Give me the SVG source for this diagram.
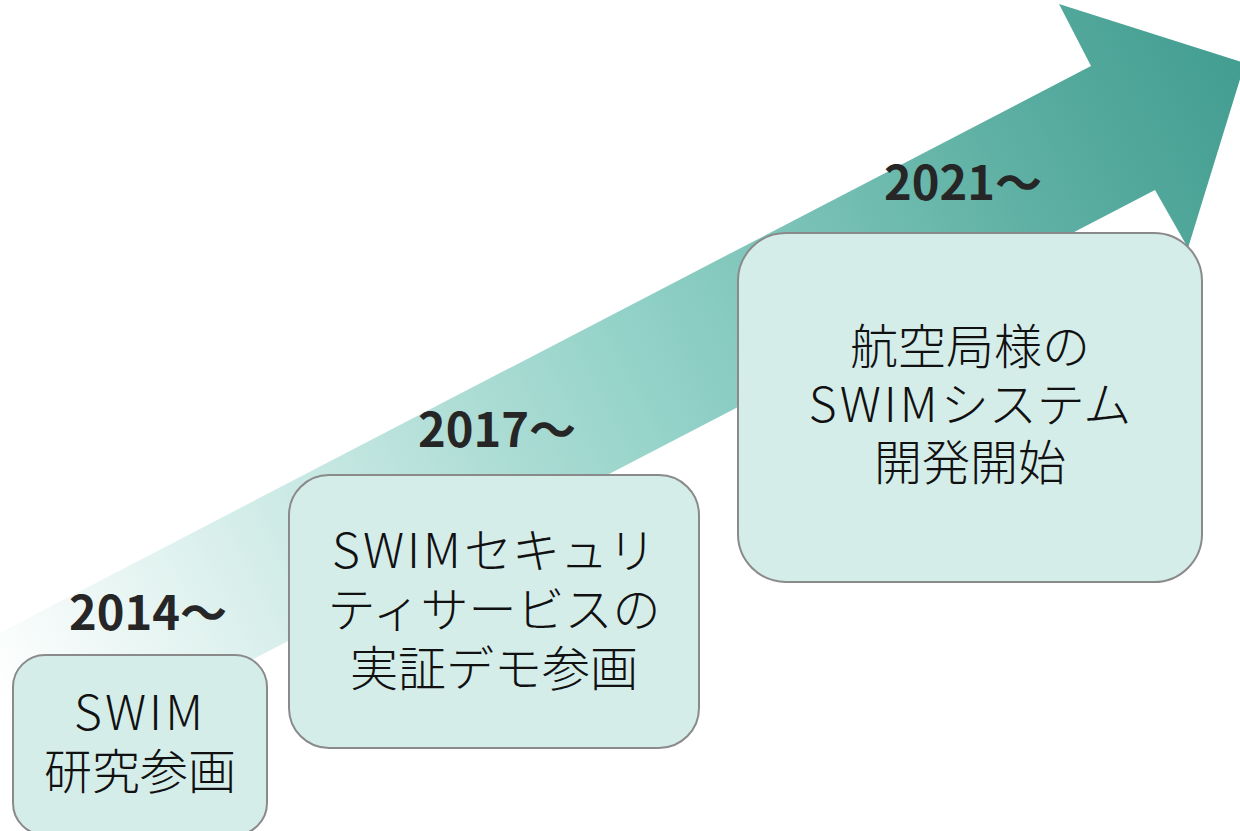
<svg xmlns="http://www.w3.org/2000/svg" width="1240" height="831" viewBox="0 0 1240 831">
<defs>
<linearGradient id="arrowGrad" gradientUnits="userSpaceOnUse" x1="0" y1="710" x2="1245" y2="63">
<stop offset="0" stop-color="#ffffff"/>
<stop offset="0.16" stop-color="#e0f2ef"/>
<stop offset="0.52" stop-color="#93d2c8"/>
<stop offset="0.89" stop-color="#52a89b"/>
<stop offset="1" stop-color="#439d91"/>
</linearGradient>
<style>
.box{fill:#d5ede9;stroke:#8a8a8a;stroke-width:2}
.body{font-family:"Noto Sans CJK JP","Noto Sans",sans-serif;font-weight:300;font-size:48px;fill:#111;text-anchor:middle}
.lat{letter-spacing:3px}
.year{font-family:"Noto Sans CJK JP","Noto Sans",sans-serif;font-weight:700;font-size:47px;fill:#262626;text-anchor:middle}
</style>
</defs>
<g id="arrow">
<polygon fill="url(#arrowGrad)" points="-10,638 1091,66 1059,4 1245,63 1188,248 1155,190 -10,796"/>
</g>
<g id="connectors"></g>
<g id="node2014">
<text class="year" x="148" y="630">2014～</text>
<rect class="box" x="13" y="655" width="254" height="180" rx="32" ry="32"/>
<text class="body" x="140" y="730"><tspan class="lat">SWIM</tspan></text>
<text class="body" x="140" y="789">研究参画</text>
</g>
<g id="node2017">
<text class="year" x="497" y="447">2017～</text>
<rect class="box" x="289" y="475" width="410" height="273" rx="40" ry="40"/>
<text class="body" x="494" y="568"><tspan class="lat">SWIM</tspan>セキュリ</text>
<text class="body" x="494" y="627">ティサービスの</text>
<text class="body" x="494" y="686">実証デモ参画</text>
</g>
<g id="node2021">
<text class="year" x="963" y="200">2021～</text>
<rect class="box" x="738" y="233" width="464" height="349" rx="48" ry="48"/>
<text class="body" x="970" y="364">航空局様の</text>
<text class="body" x="970" y="422"><tspan class="lat">SWIM</tspan>システム</text>
<text class="body" x="970" y="480">開発開始</text>
</g>
</svg>
